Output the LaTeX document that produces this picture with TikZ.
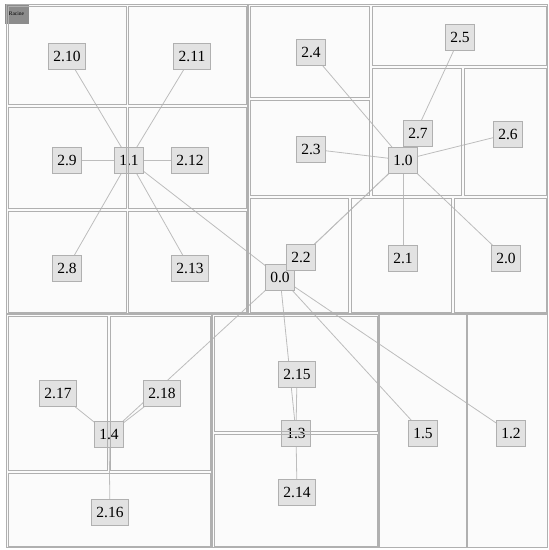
\documentclass[tikz,border=0pt]{standalone}
\usepackage{fontspec}
\setmainfont{Liberation Serif}
\definecolor{bordc}{HTML}{B0B0B0}
\definecolor{linec}{HTML}{BDBDBD}
\definecolor{nodefill}{HTML}{E2E2E2}
\definecolor{bgc}{HTML}{FBFBFB}
\pgfdeclarelayer{back}
\pgfdeclarelayer{conns}
\pgfdeclarelayer{front}
\pgfsetlayers{back,conns,main,front}
\tikzset{
  nd/.style={draw=bordc, fill=nodefill, line width=0.9pt, minimum height=26pt, inner xsep=5pt, inner ysep=0pt, font=\fontsize{15.5}{15.5}\selectfont},
  conn/.style={draw=linec, line width=0.8pt},
  cell/.style={draw=bordc, line width=1pt},
  blk/.style={draw=bordc, line width=1pt},
  tag/.style={fill=gray!90, draw=gray!90, minimum width=23pt, minimum height=19pt, inner sep=0pt, font=\fontsize{5.5}{5.5}\selectfont}
}
\begin{document}
\begin{tikzpicture}[x=1pt,y=-1pt]
\useasboundingbox (0,0) rectangle (549,550);
\begin{pgfonlayer}{back}
\fill[white] (0,0) rectangle (549,550);
\fill[bgc] (6,4) rectangle (548,548);
\end{pgfonlayer}
% nodes
\node[nd] (n00) at (280,277) {0.0};
\node[nd] (n11) at (129,160) {1.1};
\node[nd] (n10) at (403,160) {1.0};
\node[nd] (n14) at (109,434) {1.4};
\node[nd] (n13) at (296,433) {1.3};
\node[nd] (n15) at (423,433) {1.5};
\node[nd] (n12) at (511,433) {1.2};
\node[nd] (n210) at (67,56) {2.10};
\node[nd] (n211) at (192,56) {2.11};
\node[nd] (n29) at (67,160) {2.9};
\node[nd] (n212) at (190,160) {2.12};
\node[nd] (n28) at (67,268) {2.8};
\node[nd] (n213) at (190,268) {2.13};
\node[nd] (n24) at (311,52) {2.4};
\node[nd] (n25) at (460,37) {2.5};
\node[nd] (n23) at (311,149) {2.3};
\node[nd] (n27) at (418,133) {2.7};
\node[nd] (n26) at (508,134) {2.6};
\node[nd] (n22) at (301,257) {2.2};
\node[nd] (n21) at (403,258) {2.1};
\node[nd] (n20) at (506,258) {2.0};
\node[nd] (n217) at (58,393) {2.17};
\node[nd] (n218) at (162,393) {2.18};
\node[nd] (n216) at (110,512) {2.16};
\node[nd] (n215) at (297,374) {2.15};
\node[nd] (n214) at (297,492) {2.14};
% connectors
\begin{pgfonlayer}{conns}
\draw[conn] (n00.center) -- (n11.center);
\draw[conn] (n00.center) -- (n10.center);
\draw[conn] (n00.center) -- (n14.center);
\draw[conn] (n00.center) -- (n13.center);
\draw[conn] (n00.center) -- (n15.center);
\draw[conn] (n00.center) -- (n12.center);
\foreach \t in {n210,n211,n29,n212,n28,n213} \draw[conn] (n11.center) -- (\t.center);
\foreach \t in {n24,n25,n23,n27,n26,n22,n21,n20} \draw[conn] (n10.center) -- (\t.center);
\foreach \t in {n217,n218,n216} \draw[conn] (n14.center) -- (\t.center);
\foreach \t in {n215,n214} \draw[conn] (n13.center) -- (\t.center);
\end{pgfonlayer}
% cells drawn over nodes
\begin{pgfonlayer}{front}
% level-1 blocks
\draw[blk] (6.5,4.5) rectangle (247.5,313.5);
\draw[blk] (248.5,4.5) rectangle (547.5,313.5);
\draw[blk] (6.5,314.5) rectangle (211.5,547.5);
\draw[blk] (212.5,314.5) rectangle (378.5,547.5);
\draw[blk] (379.5,314.5) rectangle (466.5,547.5);
\draw[blk] (467.5,314.5) rectangle (547.5,547.5);
% leaf cells
\draw[cell] (8,6) rectangle (126,104.5);
\draw[cell] (128.5,6) rectangle (246,104.5);
\draw[cell] (8,107) rectangle (126,208.5);
\draw[cell] (128.5,107) rectangle (246,208.5);
\draw[cell] (8,211) rectangle (126,312);
\draw[cell] (128.5,211) rectangle (246,312);
\draw[cell] (250,6) rectangle (369.5,97.5);
\draw[cell] (250,100) rectangle (369.5,195.5);
\draw[cell] (372,6) rectangle (546,65.5);
\draw[cell] (372,68) rectangle (461.5,195.5);
\draw[cell] (464,68) rectangle (546,195.5);
\draw[cell] (250,198) rectangle (348.5,312);
\draw[cell] (351,198) rectangle (451.5,312);
\draw[cell] (454,198) rectangle (546,312);
\draw[cell] (8,316) rectangle (107.5,470.5);
\draw[cell] (110,316) rectangle (210,470.5);
\draw[cell] (8,473) rectangle (210,546);
\draw[cell] (214,316) rectangle (377,431.5);
\draw[cell] (214,434) rectangle (377,546);
\end{pgfonlayer}
\node[tag] (root) at (16.5,13.5) {Racine};
\end{tikzpicture}
\end{document}
